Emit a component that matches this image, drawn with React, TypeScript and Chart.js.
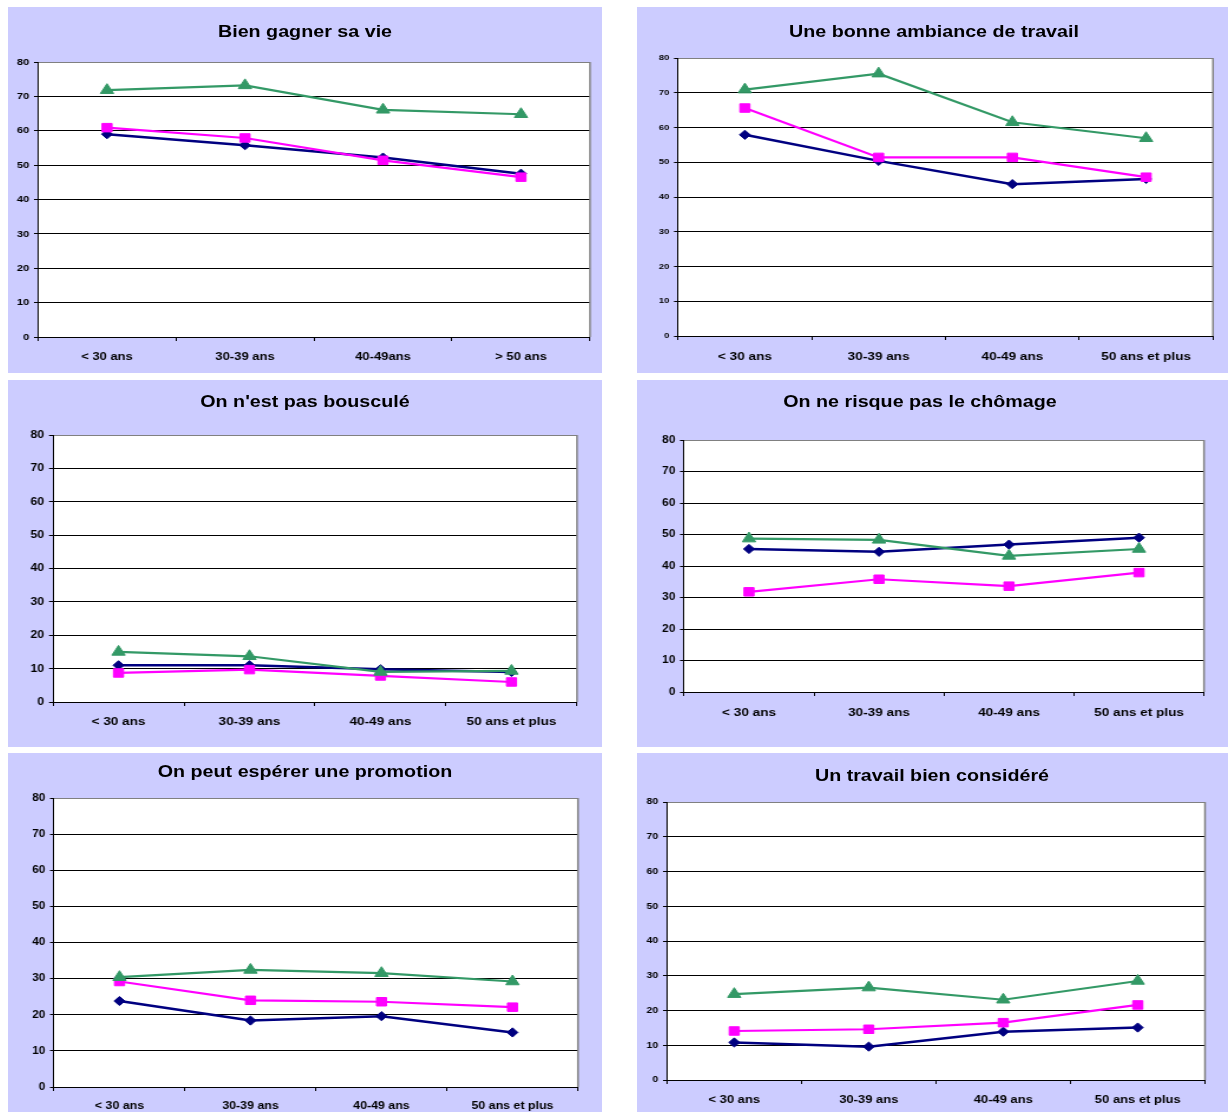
import React, { useEffect, useRef } from 'react';
import { Chart, registerables } from 'chart.js';

Chart.register(...registerables);

// ---------- data ----------
const categoriesA = ['< 30 ans', '30-39 ans', '40-49ans', '> 50 ans'];
const categoriesB = ['< 30 ans', '30-39 ans', '40-49 ans', '50 ans et plus'];
const yTickValues = [0, 10, 20, 30, 40, 50, 60, 70, 80];
const seriesNames = ['Série 1', 'Série 2', 'Série 3'];

const gagnerNavy = [59.0, 55.8, 52.2, 47.5];
const gagnerPink = [60.9, 57.9, 51.4, 46.5];
const gagnerGreen = [71.8, 73.2, 66.1, 64.8];

const ambianceNavy = [57.9, 50.4, 43.7, 45.2];
const ambiancePink = [65.6, 51.4, 51.4, 45.7];
const ambianceGreen = [70.9, 75.5, 61.5, 56.9];

const bousculeNavy = [11.0, 11.0, 9.8, 9.0];
const bousculePink = [8.7, 9.7, 7.8, 6.0];
const bousculeGreen = [15.0, 13.7, 9.0, 9.3];

const chomageNavy = [45.4, 44.5, 46.8, 49.0];
const chomagePink = [31.8, 35.8, 33.6, 37.9];
const chomageGreen = [48.7, 48.3, 43.2, 45.4];

const promotionNavy = [23.8, 18.4, 19.6, 15.1];
const promotionPink = [29.2, 24.0, 23.6, 22.1];
const promotionGreen = [30.4, 32.4, 31.5, 29.2];

const considereNavy = [10.8, 9.6, 13.9, 15.1];
const considerePink = [14.1, 14.6, 16.5, 21.6];
const considereGreen = [24.7, 26.6, 23.1, 28.5];

// ---------- styles ----------
const STRETCH = 1.18;
const FONT = "'Liberation Sans', Arial, Helvetica, sans-serif";
const NAVY = '#000080';
const PINK = '#FF00FF';
const GREEN = '#339966';
const LAVENDER = '#CCCCFF';

type Spec = {
  title: string;
  categories: string[];
  navy: number[];
  pink: number[];
  green: number[];
  box: { l: number; t: number; w: number; h: number };
  plot: { l: number; r: number; t: number; b: number };
  titleCx: number;
  titleCy: number;
  titleFont: number;
  yFont: number;
  xFont: number;
  xLabelCy: number;
};

const specs: Spec[] = [
  {
    title: 'Bien gagner sa vie', categories: categoriesA,
    navy: gagnerNavy, pink: gagnerPink, green: gagnerGreen,
    box: { l: 8, t: 7, w: 594, h: 366 }, plot: { l: 38, r: 590, t: 62, b: 337 },
    titleCx: 305, titleCy: 31.5, titleFont: 16.7, yFont: 9.5, xFont: 11, xLabelCy: 357,
  },
  {
    title: 'Une bonne ambiance de travail', categories: categoriesB,
    navy: ambianceNavy, pink: ambiancePink, green: ambianceGreen,
    box: { l: 637, t: 7, w: 591, h: 366 }, plot: { l: 678, r: 1213, t: 58, b: 336 },
    titleCx: 934, titleCy: 31.5, titleFont: 16.7, yFont: 8, xFont: 11.5, xLabelCy: 357,
  },
  {
    title: "On n'est pas bousculé", categories: categoriesB,
    navy: bousculeNavy, pink: bousculePink, green: bousculeGreen,
    box: { l: 8, t: 380, w: 594, h: 367 }, plot: { l: 53, r: 577, t: 435, b: 702 },
    titleCx: 305, titleCy: 402, titleFont: 16.7, yFont: 10.5, xFont: 11.5, xLabelCy: 722,
  },
  {
    title: 'On ne risque pas le chômage', categories: categoriesB,
    navy: chomageNavy, pink: chomagePink, green: chomageGreen,
    box: { l: 637, t: 380, w: 591, h: 367 }, plot: { l: 684, r: 1204, t: 440, b: 692 },
    titleCx: 920, titleCy: 402, titleFont: 16.7, yFont: 10, xFont: 11.5, xLabelCy: 713,
  },
  {
    title: 'On peut espérer une promotion', categories: categoriesB,
    navy: promotionNavy, pink: promotionPink, green: promotionGreen,
    box: { l: 8, t: 753, w: 594, h: 359 }, plot: { l: 54, r: 578, t: 798, b: 1087 },
    titleCx: 305, titleCy: 772, titleFont: 16.7, yFont: 10, xFont: 10.5, xLabelCy: 1106,
  },
  {
    title: 'Un travail bien considéré', categories: categoriesB,
    navy: considereNavy, pink: considerePink, green: considereGreen,
    box: { l: 637, t: 753, w: 591, h: 359 }, plot: { l: 667, r: 1205, t: 802, b: 1080 },
    titleCx: 932, titleCy: 776, titleFont: 16.7, yFont: 9, xFont: 11, xLabelCy: 1100,
  },
];

const plotBgPlugin = {
  id: 'plotBg',
  beforeDraw(chart: any) {
    const { ctx, chartArea: a } = chart;
    ctx.save();
    ctx.fillStyle = '#ffffff';
    ctx.fillRect(a.left, a.top, a.right - a.left, a.bottom - a.top);
    ctx.restore();
  },
  beforeDatasetsDraw(chart: any) {
    const { ctx, chartArea: a } = chart;
    ctx.save();
    ctx.strokeStyle = '#808080';
    ctx.lineWidth = 1.5;
    ctx.beginPath();
    ctx.moveTo(a.right, a.top);
    ctx.lineTo(a.right, a.bottom);
    ctx.stroke();
    ctx.restore();
  },
};

function Panel({ spec }: { spec: Spec }) {
  const ref = useRef<HTMLCanvasElement>(null);
  const Wc = Math.round(spec.box.w / STRETCH);
  const sx = spec.box.w / Wc;
  const H = spec.box.h;

  useEffect(() => {
    const plotL = (spec.plot.l - spec.box.l) / sx;
    const plotR = (spec.plot.r - spec.box.l) / sx;
    const padTop = spec.plot.t - spec.box.t;
    const xAxisH = spec.box.t + spec.box.h - spec.plot.b;
    const xTickLen = 4;
    const xPad = spec.xLabelCy - spec.plot.b - xTickLen - (spec.xFont * 1.2) / 2;
    const pointBase = { borderWidth: 2.2, tension: 0, pointBorderWidth: 1 };
    const chart = new Chart(ref.current as HTMLCanvasElement, {
      type: 'line',
      data: {
        labels: spec.categories,
        datasets: [
          {
            ...pointBase, label: seriesNames[2], data: spec.green,
            borderColor: GREEN, backgroundColor: GREEN,
            pointBackgroundColor: GREEN, pointBorderColor: GREEN,
            pointStyle: 'triangle', pointRadius: 6.5,
          },
          {
            ...pointBase, label: seriesNames[1], data: spec.pink,
            borderColor: PINK, backgroundColor: PINK,
            pointBackgroundColor: PINK, pointBorderColor: PINK,
            pointStyle: 'rect', pointRadius: 6,
          },
          {
            ...pointBase, borderWidth: 2.5, label: seriesNames[0], data: spec.navy,
            borderColor: NAVY, backgroundColor: NAVY,
            pointBackgroundColor: NAVY, pointBorderColor: NAVY,
            pointStyle: 'rectRot', pointRadius: 4.6,
          },
        ],
      },
      options: {
        animation: false,
        responsive: false,
        maintainAspectRatio: false,
        devicePixelRatio: 1,
        layout: { padding: { left: 0, right: Wc - plotR, top: padTop, bottom: 0 } },
        plugins: {
          legend: { display: false },
          tooltip: { enabled: false },
          title: { display: false },
        },
        scales: {
          x: {
            type: 'category',
            offset: true,
            grid: {
              offset: true, drawOnChartArea: false, drawTicks: true,
              tickLength: xTickLen, color: '#000', lineWidth: 1,
            },
            border: { display: true, color: '#000', width: 1 },
            ticks: {
              font: { family: FONT, size: spec.xFont, weight: 'bold' },
              color: '#000', padding: xPad, maxRotation: 0, autoSkip: false,
            },
            afterFit: (sc: any) => { sc.height = xAxisH; },
          },
          y: {
            min: yTickValues[0],
            max: yTickValues[yTickValues.length - 1],
            ticks: {
              stepSize: yTickValues[1] - yTickValues[0],
              font: { family: FONT, size: spec.yFont, weight: 'bold' },
              color: '#000', padding: 4,
            },
            grid: {
              color: (c: any) => (c.tick && c.tick.value === 80 ? '#808080' : '#000'),
              tickColor: '#000', tickLength: 3.4, lineWidth: 1,
            },
            border: { display: true, color: '#000', width: 1 },
            afterFit: (sc: any) => { sc.width = plotL; },
          },
        },
      } as any,
      plugins: [plotBgPlugin],
    });
    return () => chart.destroy();
  }, []);

  const f = spec.titleFont;
  const lh = 20;
  const capCenter = (lh - 1.117 * f) / 2 + 0.905 * f - 0.358 * f;

  return (
    <div
      style={{
        position: 'absolute', left: spec.box.l, top: spec.box.t,
        width: Wc, height: H, background: LAVENDER,
        transform: `scaleX(${sx})`, transformOrigin: '0 0',
      }}
    >
      <div
        style={{
          position: 'absolute', left: (spec.titleCx - spec.box.l) / sx - 300, width: 600,
          top: spec.titleCy - spec.box.t - capCenter, height: lh, lineHeight: `${lh}px`,
          textAlign: 'center', whiteSpace: 'nowrap', fontFamily: FONT, fontWeight: 'bold',
          fontSize: f, color: '#000',
        }}
      >
        {spec.title}
      </div>
      <canvas
        ref={ref}
        width={Wc}
        height={H}
        style={{ position: 'absolute', left: 0, top: 0, display: 'block' }}
      />
    </div>
  );
}

export default function App() {
  return (
    <div
      style={{
        position: 'fixed', left: 0, top: 0, width: 1228, height: 1112,
        overflow: 'hidden', background: '#ffffff',
      }}
    >
      {specs.map((s, i) => (
        <Panel key={i} spec={s} />
      ))}
    </div>
  );
}
